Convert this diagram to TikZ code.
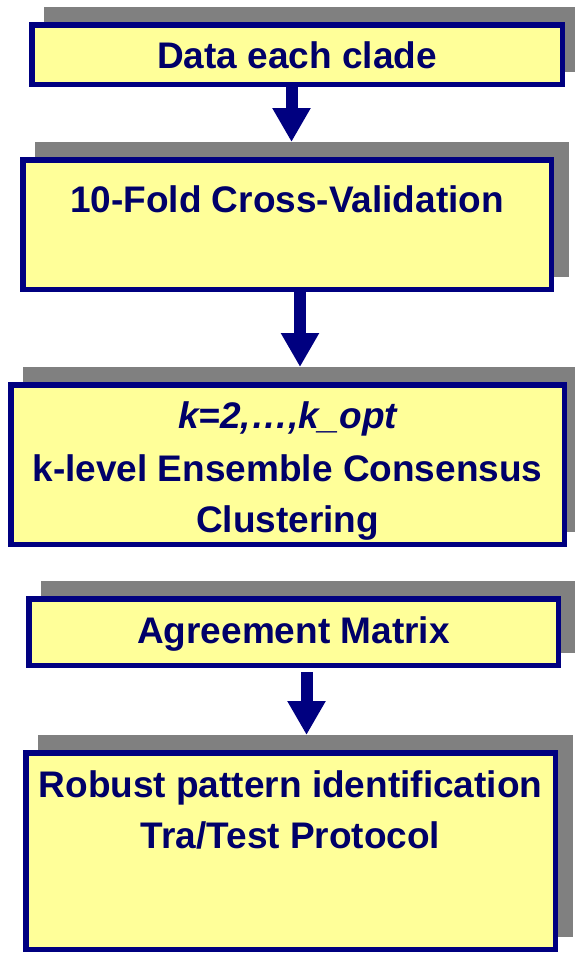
\documentclass[tikz,border=0pt]{standalone}
\usepackage{fontspec}
\setmainfont{Liberation Sans}
\usetikzlibrary{arrows.meta}
\definecolor{boxfill}{RGB}{255,255,153}
\definecolor{boxline}{RGB}{0,0,128}
\definecolor{shadowgray}{RGB}{128,128,128}
\definecolor{labelink}{RGB}{0,0,105}
\begin{document}
\begin{tikzpicture}[x=1pt,y=-1pt,
  flowbox/.style={rectangle, draw=boxline, fill=boxfill, line width=5.5pt,
    inner sep=0pt, outer sep=0pt},
  boxshadow/.style={rectangle, fill=shadowgray, inner sep=0pt, outer sep=0pt},
  boxlabel/.style={anchor=base, inner sep=0pt, outer sep=0pt, text=labelink,
    font=\fontsize{37}{44}\selectfont\bfseries},
  flowarrow/.style={draw=boxline, line width=12pt,
    -{Triangle[width=36pt,length=34pt]}}]
\useasboundingbox (0,0) rectangle (575,953);
\clip (0,0) rectangle (575,953);

% grey drop shadows, offset up and to the right
\node[boxshadow, minimum width=536pt, minimum height=65pt]  (sh1) at (312,39.5)   {};
\node[boxshadow, minimum width=534pt, minimum height=135pt] (sh2) at (302,209.5)  {};
\node[boxshadow, minimum width=559pt, minimum height=165pt] (sh3) at (302.5,449.5){};
\node[boxshadow, minimum width=535pt, minimum height=72pt]  (sh4) at (308.5,617)  {};
\node[boxshadow, minimum width=535pt, minimum height=202pt] (sh5) at (305.5,836)  {};

% flow boxes (sizes measured to the outer edge of the border)
\node[flowbox, minimum width=530.5pt, minimum height=59.5pt]  (box1) at (297,54.5)   {};
\node[flowbox, minimum width=528.5pt, minimum height=129.5pt] (box2) at (287,224.5)  {};
\node[flowbox, minimum width=553.5pt, minimum height=159.5pt] (box3) at (287.5,464.5){};
\node[flowbox, minimum width=529.5pt, minimum height=66.5pt]  (box4) at (293.5,632)  {};
\node[flowbox, minimum width=529.5pt, minimum height=196.5pt] (box5) at (290.5,851)  {};

% block arrows between the steps
\draw[flowarrow] ([xshift=-5.5pt]box1.south) -- ([xshift=-10.5pt]sh2.north);
\draw[flowarrow] ([xshift=13pt]box2.south) -- ([xshift=-2.5pt]sh3.north);
\draw[flowarrow] ([xshift=13pt,yshift=-6.75pt]box4.south) -- ([xshift=1pt]sh5.north);

% labels
\node[boxlabel] (t1)  at (297,68)    {Data each clade};
\node[boxlabel] (t2)  at (287,212)   {10-Fold Cross-Validation};
\node[boxlabel] (t3a) at (287.5,428) {\itshape k=2,…,k\_opt};
\node[boxlabel] (t3b) at (287.5,481) {k-level Ensemble Consensus};
\node[boxlabel] (t3c) at (287.5,532) {Clustering};
\node[boxlabel] (t4)  at (293.5,643) {Agreement Matrix};
\node[boxlabel] (t5a) at (290.5,797) {Robust pattern identification};
\node[boxlabel] (t5b) at (290.5,848) {Tra/Test Protocol};
\end{tikzpicture}
\end{document}
